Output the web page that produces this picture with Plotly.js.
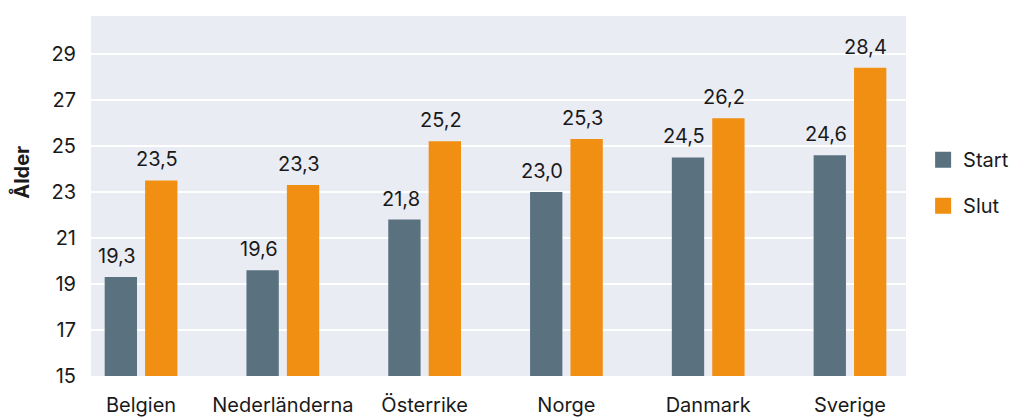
<!DOCTYPE html>
<html>
<head>
<meta charset="utf-8">
<script src="https://cdn.plot.ly/plotly-3.0.1.min.js"></script>
<style>html,body{margin:0;padding:0;background:#fff;}#chart{width:1016px;height:417px;}</style>
</head>
<body>
<div id="chart"></div>
<script>
const categories = ["Belgien", "Nederländerna", "Österrike", "Norge", "Danmark", "Sverige"];
const startValues = [19.3, 19.6, 21.8, 23.0, 24.5, 24.6];
const slutValues = [23.5, 23.3, 25.2, 25.3, 26.2, 28.4];
const seriesNames = ["Start", "Slut"];
const yTicks = [15, 17, 19, 21, 23, 25, 27, 29];
const yTitle = "Ålder";

const FONT = "Inter, 'Noto Sans', sans-serif";
const TXT = "#1a1a1a";
const colStart = "#5a7280";
const colSlut = "#f18f13";
const fmt = v => v.toFixed(1).replace(".", ",");

const traces = [
  {type: "bar", x: categories, y: startValues, name: seriesNames[0], marker: {color: colStart}, showlegend: false, hoverinfo: "skip"},
  {type: "bar", x: categories, y: slutValues, name: seriesNames[1], marker: {color: colSlut}, showlegend: false, hoverinfo: "skip"},
  {type: "scatter", mode: "markers", x: [null], y: [null], name: seriesNames[0], legendgroup: "a", marker: {symbol: "square", size: 16, color: colStart}},
  {type: "scatter", mode: "markers", x: [null], y: [null], name: seriesNames[1], legendgroup: "b", marker: {symbol: "square", size: 16, color: colSlut}}
];

const annotations = [];
categories.forEach((c, i) => {
  annotations.push({x: c, y: startValues[i], text: fmt(startValues[i]), showarrow: false, yanchor: "bottom", xshift: -24, yshift: 7, font: {family: FONT, size: 20, color: TXT}});
  annotations.push({x: c, y: slutValues[i], text: fmt(slutValues[i]), showarrow: false, yanchor: "bottom", xshift: 16, yshift: 7, font: {family: FONT, size: 20, color: TXT}});
});
annotations.push({xref: "paper", yref: "paper", x: -0.086, y: 0.567, xanchor: "center", yanchor: "middle", textangle: -90, showarrow: false, text: "<b>" + yTitle + "</b>", font: {family: FONT, size: 20, color: TXT}});

const layout = {
  width: 1016, height: 417,
  margin: {l: 91, r: 110, t: 16, b: 41, autoexpand: false},
  paper_bgcolor: "#ffffff",
  plot_bgcolor: "#eaecf4",
  font: {family: FONT, size: 20, color: TXT},
  barmode: "group",
  bargap: 0.43,
  bargroupgap: 0.2,
  showlegend: true,
  legend: {x: 1.021, xanchor: "left", y: 0.537, yanchor: "middle", traceorder: "grouped", tracegroupgap: 17, font: {family: FONT, size: 20, color: TXT}, bgcolor: "rgba(0,0,0,0)"},
  xaxis: {type: "category", range: [-0.353, 5.395], showgrid: false, zeroline: false, showline: false, ticks: "", ticklabelstandoff: 15, tickfont: {family: FONT, size: 20, color: TXT}},
  yaxis: {range: [15, 30.65], tickvals: yTicks, ticktext: yTicks.map(String), showgrid: true, gridcolor: "#ffffff", gridwidth: 2.5, zeroline: false, showline: false, ticks: "", ticklabelstandoff: 14,
    tickfont: {family: FONT, size: 20, color: TXT}},
  annotations: annotations
};

Plotly.newPlot("chart", traces, layout, {displayModeBar: false, staticPlot: true});
</script>
</body>
</html>
